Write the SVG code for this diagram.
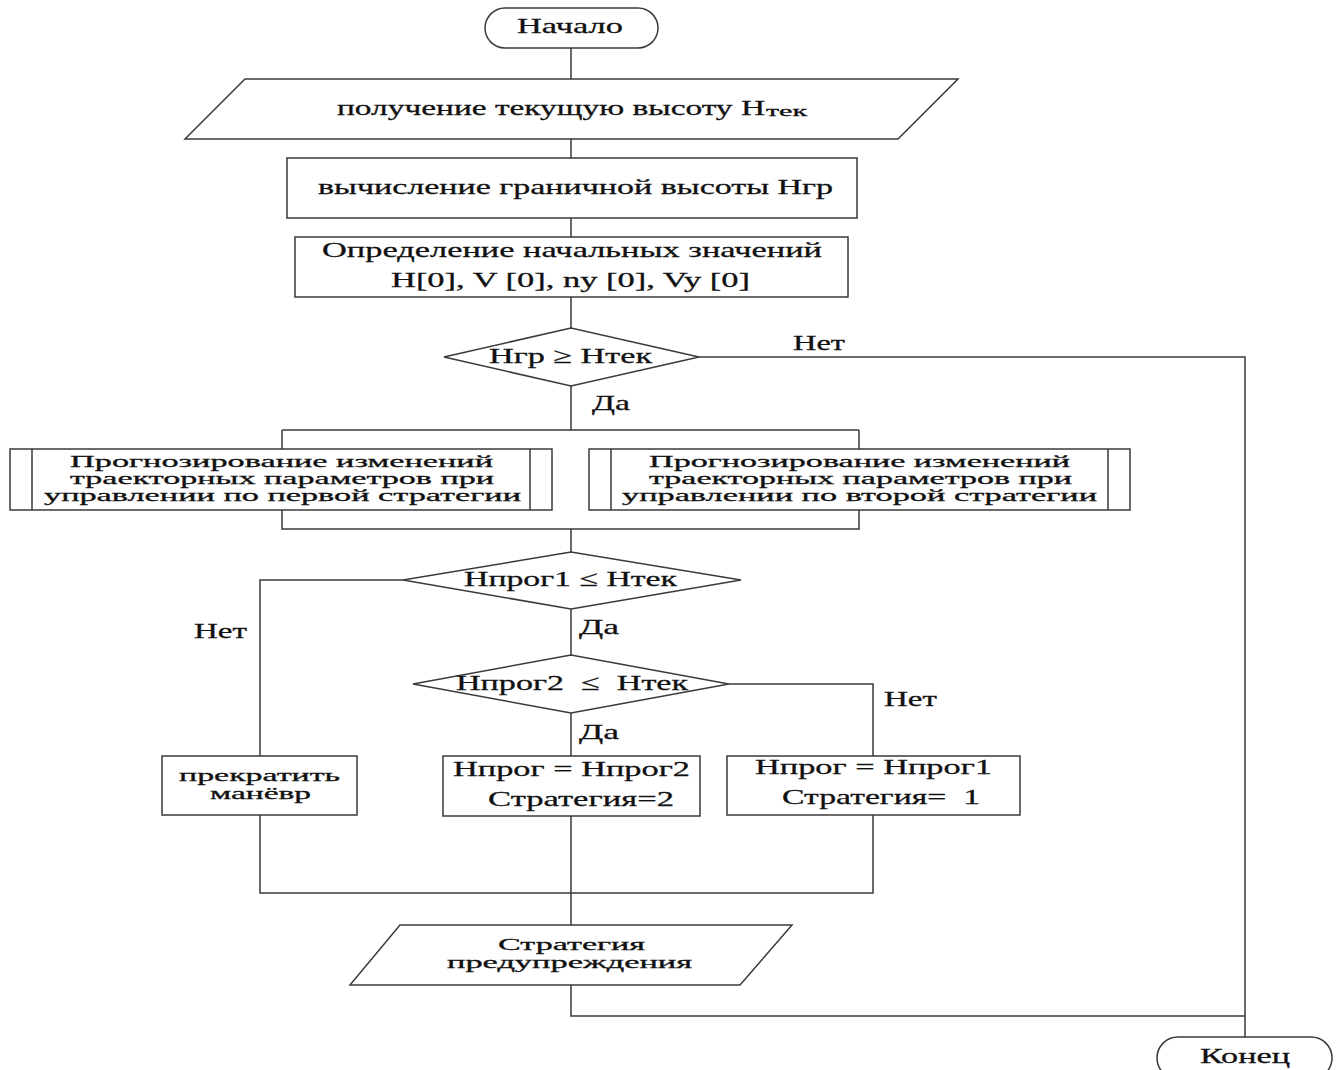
<svg xmlns="http://www.w3.org/2000/svg" width="1340" height="1070" viewBox="0 0 1340 1070">
<style>
.s{fill:#fff;stroke:#3a3a3a;stroke-width:1.5}
.c{fill:none;stroke:#3a3a3a;stroke-width:1.5}
text{font-family:"Liberation Serif","DejaVu Serif",serif;font-size:22px;fill:#111;stroke:#111;stroke-width:0.3;white-space:pre}
.t{font-size:17px}
.u{font-size:17px}
</style>
<rect width="1340" height="1070" fill="#fff"/>
<g id="connectors">
<path class="c" d="M571 48V79M571 139V158M571 218V237M571 297V328"/>
<path class="c" d="M699 357H1245V1037"/>
<path class="c" d="M571 386V430M282 430H859M282 430V449M859 430V449"/>
<path class="c" d="M282 510V529H859V510M571 529V552"/>
<path class="c" d="M403 580H260V756"/>
<path class="c" d="M571 609V655"/>
<path class="c" d="M729 684H873V756"/>
<path class="c" d="M571 713V756"/>
<path class="c" d="M260 815V893H873V815M571 816V925"/>
<path class="c" d="M571 985V1016H1245"/>
</g>
<g id="start">
<rect class="s" x="485" y="8" width="173" height="40" rx="20"/>
<text x="517" y="33" textLength="106" lengthAdjust="spacingAndGlyphs">Начало</text>
</g>
<g id="input1">
<polygon class="s" points="245,79 958,79 898,139 185,139"/>
<text x="337" y="115" textLength="428" lengthAdjust="spacingAndGlyphs">получение текущую высоту H</text>
<text x="766" y="116" style="font-size:14px" textLength="41" lengthAdjust="spacingAndGlyphs">тек</text>
</g>
<g id="calc">
<rect class="s" x="287" y="158" width="570" height="60"/>
<text x="318" y="194" textLength="515" lengthAdjust="spacingAndGlyphs">вычисление граничной высоты Hгр</text>
</g>
<g id="init">
<rect class="s" x="295" y="237" width="553" height="60"/>
<text x="322" y="257" textLength="500" lengthAdjust="spacingAndGlyphs">Определение начальных значений</text>
<text x="391" y="287" textLength="359" lengthAdjust="spacingAndGlyphs">H[0], V [0], ny [0], Vy [0]</text>
</g>
<g id="dec1">
<polygon class="s" points="444,357 571,328 699,357 571,386"/>
<text x="489" y="363" textLength="163" lengthAdjust="spacingAndGlyphs">Hгр ≥ Hтек</text>
</g>
<g id="labels">
<text x="793" y="350" textLength="52" lengthAdjust="spacingAndGlyphs">Нет</text>
<text x="592" y="410" textLength="38" lengthAdjust="spacingAndGlyphs">Да</text>
<text x="194" y="638" textLength="53" lengthAdjust="spacingAndGlyphs">Нет</text>
<text x="579" y="634" textLength="40" lengthAdjust="spacingAndGlyphs">Да</text>
<text x="884" y="706" textLength="53" lengthAdjust="spacingAndGlyphs">Нет</text>
<text x="579" y="739" textLength="40" lengthAdjust="spacingAndGlyphs">Да</text>
</g>
<g id="pred1">
<rect class="s" x="10" y="449" width="542" height="61"/>
<path class="c" d="M32 449V510M530 449V510"/>
<text class="t" x="70" y="467" textLength="423" lengthAdjust="spacingAndGlyphs">Прогнозирование изменений</text>
<text class="t" x="70" y="484" textLength="424" lengthAdjust="spacingAndGlyphs">траекторных параметров при</text>
<text class="t" x="44" y="501" textLength="477" lengthAdjust="spacingAndGlyphs">управлении по первой стратегии</text>
</g>
<g id="pred2">
<rect class="s" x="589" y="449" width="541" height="61"/>
<path class="c" d="M611 449V510M1108 449V510"/>
<text class="t" x="649" y="467" textLength="421" lengthAdjust="spacingAndGlyphs">Прогнозирование изменений</text>
<text class="t" x="649" y="484" textLength="423" lengthAdjust="spacingAndGlyphs">траекторных параметров при</text>
<text class="t" x="622" y="501" textLength="475" lengthAdjust="spacingAndGlyphs">управлении по второй стратегии</text>
</g>
<g id="dec2">
<polygon class="s" points="403,580 571,552 741,580 571,609"/>
<text x="464" y="586" textLength="213" lengthAdjust="spacingAndGlyphs">Hпрог1 ≤ Hтек</text>
</g>
<g id="dec3">
<polygon class="s" points="413,684 571,655 729,684 571,713"/>
<text x="456" y="690" textLength="232" lengthAdjust="spacingAndGlyphs">Hпрог2  ≤  Hтек</text>
</g>
<g id="stop">
<rect class="s" x="162" y="756" width="195" height="59"/>
<text class="u" x="179" y="781" textLength="161" lengthAdjust="spacingAndGlyphs">прекратить</text>
<text class="u" x="210" y="799" textLength="101" lengthAdjust="spacingAndGlyphs">манёвр</text>
</g>
<g id="set2">
<rect class="s" x="443" y="756" width="257" height="60"/>
<text x="453" y="776" textLength="237" lengthAdjust="spacingAndGlyphs">Hпрог = Hпрог2</text>
<text x="488" y="806" textLength="186" lengthAdjust="spacingAndGlyphs">Стратегия=2</text>
</g>
<g id="set1">
<rect class="s" x="727" y="756" width="293" height="59"/>
<text x="755" y="774" textLength="237" lengthAdjust="spacingAndGlyphs">Hпрог = Hпрог1</text>
<text x="782" y="804" textLength="198" lengthAdjust="spacingAndGlyphs">Стратегия=  1</text>
</g>
<g id="output">
<polygon class="s" points="400,925 792,925 740,985 350,985"/>
<text class="u" x="498" y="950" textLength="147" lengthAdjust="spacingAndGlyphs">Стратегия</text>
<text class="u" x="447" y="968" textLength="245" lengthAdjust="spacingAndGlyphs">предупреждения</text>
</g>
<g id="end">
<rect class="s" x="1157" y="1037" width="175" height="42" rx="21"/>
<text x="1200" y="1063" textLength="90" lengthAdjust="spacingAndGlyphs">Конец</text>
</g>
</svg>
